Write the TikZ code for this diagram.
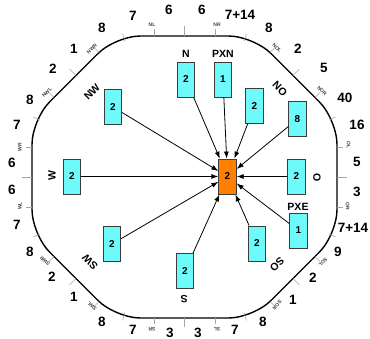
\documentclass[tikz,border=0pt]{standalone}
\usepackage{fontspec}
\setmainfont{Liberation Sans}
\usetikzlibrary{arrows.meta}
\definecolor{boxcyan}{RGB}{110,250,250}
\definecolor{boxorange}{RGB}{255,128,0}
\definecolor{boxline}{RGB}{60,60,60}
\definecolor{tickgray}{RGB}{165,165,165}
\begin{document}
\begin{tikzpicture}[x=1pt,y=-1pt,
  bx/.style={draw=boxline, line width=0.8pt, fill=boxcyan, minimum width=17.5pt, minimum height=35pt, inner sep=0pt, font=\bfseries\fontsize{10}{10}\selectfont},
  cbx/.style={bx, fill=boxorange},
  num/.style={font=\bfseries\fontsize{13.5}{13.5}\selectfont, inner sep=0pt},
  dirlab/.style={font=\bfseries\fontsize{10.5}{10.5}\selectfont, inner sep=0pt},
  tinylab/.style={font=\bfseries\fontsize{5}{5}\selectfont, inner sep=0pt, text=black!75},
  tk/.style={draw=tickgray, line width=0.6pt},
  arr/.style={-{Latex[length=7pt,width=5pt]}, line width=0.8pt}
]
\useasboundingbox (0,0) rectangle (370,338);
% outer rounded octagon
\draw[line width=1.4pt, rounded corners=25pt] (184.5,36) -- (253.5,36) -- (337,119.5) -- (337,234.5) -- (253.5,318) -- (115.5,318) -- (32,234.5) -- (32,119.5) -- (115.5,36) -- cycle;
% ticks
\foreach \x/\y/\dx/\dy in {
  154/36/0/-7, 184.5/36/0/-10, 215/36/0/-7,
  124.8/41.2/-2.2/-7.7, 244.2/41.2/2.2/-7.7,
  270/52.5/5/-5, 293/75.5/6.4/-6.4, 315/97.5/5/-5,
  329.2/120/6.3/-2.9, 329.2/234/6.3/2.9,
  337/147/6/0, 337/177/10/0, 337/207/6/0,
  315/256.5/5/5, 293/278.5/6.4/6.4, 270/301.5/5/5,
  244.2/312.8/2.2/7.7, 124.8/312.8/-2.2/7.7,
  215/318/0/6, 184.5/318/0/9, 154/318/0/6,
  99/301.5/-5/5, 76/278.5/-6.4/6.4, 54/256.5/-5/5,
  39.8/234/-6.3/2.9, 39.8/120/-6.3/-2.9,
  32/207/-6/0, 32/177/-10/0, 32/147/-6/0,
  54/97.5/-5/-5, 76/75.5/-6.4/-6.4, 99/52.5/-5/-5}
  \draw[tk] (\x,\y) -- ++(\dx,\dy);
% numbers
\node[num] (m1) at (202,10) {6};
\node[num] (m2) at (240,15) {7+14};
\node[num] (m3) at (269,28) {8};
\node[num] (m4) at (298,49) {2};
\node[num] (m5) at (324,68) {5};
\node[num] (m6) at (345,98) {40};
\node[num] (m7) at (357,125) {16};
\node[num] (m8) at (357,162) {5};
\node[num] (m9) at (357,192) {3};
\node[num] (m10) at (353,228) {7+14};
\node[num] (m11) at (338,252) {9};
\node[num] (m12) at (313,278) {2};
\node[num] (m13) at (293,300) {1};
\node[num] (m14) at (263,322) {8};
\node[num] (m15) at (235,330) {7};
\node[num] (m16) at (198,332.5) {3};
\node[num] (m17) at (170,332.5) {3};
\node[num] (m18) at (133,330) {7};
\node[num] (m19) at (102,322) {8};
\node[num] (m20) at (74,297) {1};
\node[num] (m21) at (52,277) {2};
\node[num] (m22) at (30,252) {8};
\node[num] (m23) at (17,225) {7};
\node[num] (m24) at (12,190) {6};
\node[num] (m25) at (12,163) {6};
\node[num] (m26) at (17,125) {7};
\node[num] (m27) at (30,100) {8};
\node[num] (m28) at (53,69) {2};
\node[num] (m29) at (74,49) {1};
\node[num] (m30) at (102,28) {8};
\node[num] (m31) at (133,16) {7};
\node[num] (m32) at (169,10) {6};
% tiny tick labels
\node[tinylab] (tNL) at (152,24.5) {NL};
\node[tinylab] (tNR) at (217,24.5) {NR};
\node[tinylab, rotate=-45] (tNOL) at (277,48) {NOL};
\node[tinylab, rotate=-45] (tNOR) at (322,91) {NOR};
\node[tinylab, rotate=-90] (tOL) at (348.5,145) {OL};
\node[tinylab, rotate=-90] (tOR) at (347.5,206) {OR};
\node[tinylab, rotate=-135] (tSOL) at (323,262) {SOL};
\node[tinylab, rotate=-135] (tSOR) at (277,305) {SOR};
\node[tinylab, rotate=180] (tSL) at (217,329.5) {SL};
\node[tinylab, rotate=180] (tSR) at (152,329.5) {SR};
\node[tinylab, rotate=135] (tSWL) at (92,306) {SWL};
\node[tinylab, rotate=135] (tSWR) at (45,261) {SWR};
\node[tinylab, rotate=90] (tWL) at (20,206) {WL};
\node[tinylab, rotate=90] (tWR) at (20,147) {WR};
\node[tinylab, rotate=45] (tNWL) at (47,92.5) {NWL};
\node[tinylab, rotate=45] (tNWR) at (92,49) {NWR};
% direction labels
\node[dirlab] (lN) at (186,54) {N};
\node[dirlab] (lPXN) at (223,54) {PXN};
\node[dirlab, rotate=-45] (lNO) at (280,89) {NO};
\node[dirlab, rotate=-90] (lO) at (317,178) {O};
\node[dirlab] (lPXE) at (298,207) {PXE};
\node[dirlab, rotate=-135] (lSO) at (277,264) {SO};
\node[dirlab, rotate=180] (lS) at (184,299) {S};
\node[dirlab, rotate=135] (lSW) at (90,262) {SW};
\node[dirlab, rotate=90] (lW) at (52,176) {W};
\node[dirlab, rotate=45] (lNW) at (92,92) {NW};
% boxes
\node[cbx] (c) at (227.5,176.5) {2};
\node[bx] (bN) at (186,79.5) {2};
\node[bx] (bPXN) at (223,79.5) {1};
\node[bx] (bNO) at (254.5,106) {2};
\node[bx] (bNO8) at (297.5,119) {8};
\node[bx] (bO) at (296.5,176.5) {2};
\node[bx] (bPXE) at (298.5,230.5) {1};
\node[bx] (bSO) at (257,243.5) {2};
\node[bx] (bS) at (185,271) {2};
\node[bx] (bSW) at (112,244) {2};
\node[bx] (bW) at (72,176.5) {2};
\node[bx] (bNW) at (113,107) {2};
% arrows
\foreach \b in {bN,bPXN,bNO,bNO8,bO,bPXE,bSO,bS,bSW,bW,bNW}
  \draw[arr] (\b) -- (c);
\end{tikzpicture}
\end{document}
